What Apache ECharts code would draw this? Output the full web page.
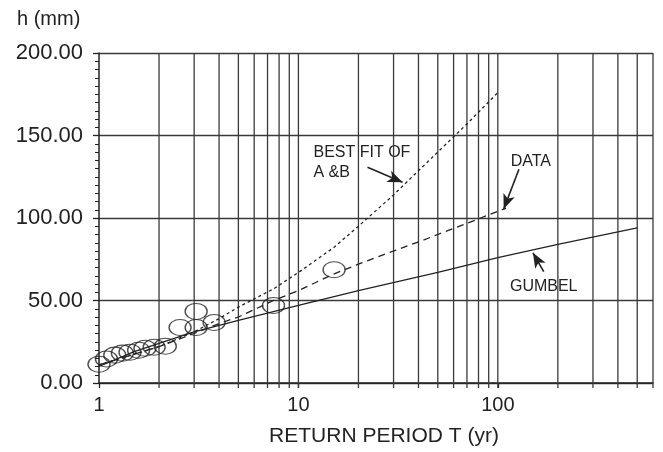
<!DOCTYPE html>
<html>
<head>
<meta charset="utf-8">
<script src="https://cdn.jsdelivr.net/npm/echarts@6/dist/echarts.min.js"></script>
<style>
html,body{margin:0;padding:0;background:#fff;}
#chart{width:663px;height:452px;}
</style>
</head>
<body>
<div id="chart"></div>
<script>
// Observed data points (return period T, depth h)
const dataT = [1.0, 1.09, 1.2, 1.31, 1.43, 1.58, 1.7, 1.89, 2.15, 2.55, 3.07, 3.07, 3.78, 7.5, 15.1];
const dataH = [11.4, 14.5, 16.9, 18.1, 18.7, 19.9, 21.1, 21.7, 22.3, 33.7, 33.7, 43.4, 36.7, 47, 68.7];

// Gumbel (solid)
const gumbelT = [1, 1.5, 2, 3, 5, 10, 20, 50, 100, 200, 500];
const gumbelH = [10, 19, 24, 31, 38, 47, 56, 67, 76, 84, 94];

// Data curve (dashed)
const dataCurveT = [1, 2, 3, 4, 5, 7.5, 10, 15, 20, 30, 41, 50, 82, 110];
const dataCurveH = [11, 22, 30, 36, 40, 50, 56, 66, 72, 80, 86, 90, 100, 106];

// Best fit of A & B (dotted)
const bestT = [1, 2, 3, 4, 5, 7.5, 10, 15, 20, 30, 50, 70, 100];
const bestH = [11, 22, 31, 39, 46, 57, 67, 82, 95, 114, 140, 157, 176];

// Axis settings
const xMin = 1, xMax = 600;
const yMin = 0, yMax = 200, yStep = 50;
const xLabels = [1, 10, 100];
const xGridValues = [2,3,4,5,6,7,8,9,10,20,30,40,50,60,70,80,90,100,200,300,400,500,600];

// Annotations: [text, anchor T, anchor h]
const annotTexts = ['BEST FIT OF\nA &B', 'DATA', 'GUMBEL'];
const annotAt = [[11.9, 146], [116, 140], [115, 64.5]];
// Arrows: [fromT, fromH, toT, toH]
const arrows = [[22.2, 130.7, 33.3, 121.7], [127.6, 129.5, 107, 105.4], [170, 67.5, 150, 78.9]];

const FONT = 'Liberation Sans, Arial, sans-serif';
const INK = '#222';
const GRID = '#3a3a3a';

const zip = (a, b) => a.map((v, i) => [v, b[i]]);

const chart = echarts.init(document.getElementById('chart'), null, {renderer: 'canvas'});

const arrowLines = arrows.map(a => [{coord: [a[0], a[1]]}, {coord: [a[2], a[3]]}]);

chart.setOption({
  animation: false,
  grid: {left: 99, right: 10, top: 53, bottom: 67},
  xAxis: {
    type: 'log', logBase: 10, min: xMin, max: xMax,
    name: 'RETURN PERIOD T (yr)', nameLocation: 'middle', nameGap: 43,
    nameTextStyle: {fontFamily: FONT, fontSize: 21, color: INK, verticalAlign: 'top', padding: [0, 0, 0, 16]},
    axisLine: {show: true, lineStyle: {color: INK, width: 1.5}},
    axisTick: {show: true, length: 5, lineStyle: {color: INK, width: 1.3}},
    axisLabel: {fontFamily: FONT, fontSize: 20, color: INK, margin: 12, showMaxLabel: false,
      formatter: v => xLabels.indexOf(Math.round(v)) >= 0 ? String(Math.round(v)) : ''},
    splitLine: {show: false}
  },
  yAxis: {
    type: 'value', min: yMin, max: yMax, interval: yStep,
    axisLine: {show: true, lineStyle: {color: INK, width: 1.5}},
    axisTick: {show: true, length: 6, lineStyle: {color: INK, width: 1.3}},
    minorTick: {show: true, splitNumber: 10, length: 4, lineStyle: {color: INK, width: 1}},
    axisLabel: {fontFamily: FONT, fontSize: 22, color: INK, margin: 16, formatter: v => v.toFixed(2)},
    splitLine: {show: true, lineStyle: {color: GRID, width: 1.3}}
  },
  series: [
    {
      type: 'custom', z: 1, clip: false, silent: true,
      data: xGridValues.map(v => [v]),
      encode: {x: 0},
      renderItem: (params, api) => {
        const top = api.coord([api.value(0), yMax]);
        const bot = api.coord([api.value(0), yMin]);
        return {type: 'line', shape: {x1: top[0], y1: top[1], x2: bot[0], y2: bot[1] + 5},
          style: {stroke: GRID, lineWidth: 1.3}};
      }
    },
    {
      type: 'line', data: zip(gumbelT, gumbelH), showSymbol: false, z: 3,
      lineStyle: {color: INK, width: 1.3, type: 'solid'}
    },
    {
      type: 'line', data: zip(dataCurveT, dataCurveH), showSymbol: false, z: 3,
      lineStyle: {color: INK, width: 1.3, type: [7, 5]},
      markLine: {silent: true, symbol: ['none', 'arrow'], symbolSize: [9, 15], label: {show: false},
        lineStyle: {color: INK, width: 1.6, type: 'solid'}, data: arrowLines}
    },
    {
      type: 'line', data: zip(bestT, bestH), showSymbol: false, z: 3,
      lineStyle: {color: INK, width: 1.3, type: [3, 3]}
    },
    {
      type: 'scatter', data: zip(dataT, dataH), symbol: 'circle', symbolSize: [22, 16], z: 4,
      itemStyle: {color: 'rgba(0,0,0,0)', borderColor: INK, borderWidth: 1.2}
    }
  ]
});

const texts = annotTexts.map((t, i) => {
  const p = chart.convertToPixel({gridIndex: 0}, annotAt[i]);
  return {type: 'text', x: p[0], y: p[1],
    style: {text: t, font: '16px ' + FONT, fill: INK, lineHeight: 20, textVerticalAlign: 'top'}};
});
chart.setOption({graphic: [{type: 'text', left: 17, top: 9, style: {text: 'h (mm)', font: '20px ' + FONT, fill: INK}}].concat(texts)});
</script>
</body>
</html>
